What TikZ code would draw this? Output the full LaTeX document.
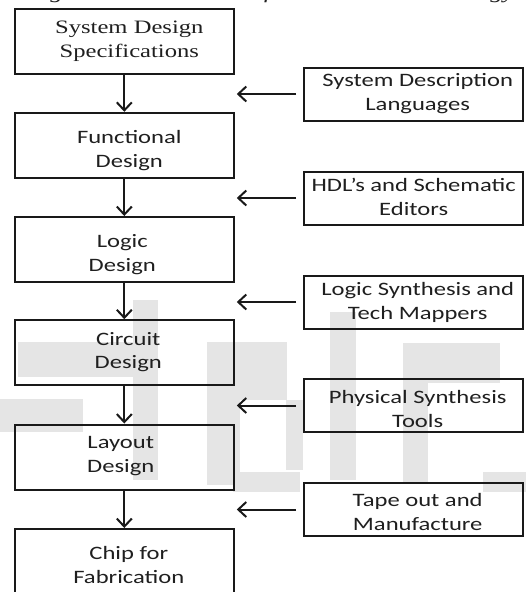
\documentclass[tikz,border=0pt]{standalone}
\usepackage{fontspec}
\usepackage{graphicx}
\setmainfont{Liberation Serif}
\newfontfamily\calfont{Carlito}
\usetikzlibrary{arrows.meta}
\newcommand{\tlines}[2]{\scalebox{1}[0.77]{\begin{tabular}{@{}c@{}}#1\\#2\end{tabular}}}
\begin{document}
\begin{tikzpicture}[x=1pt,y=-1pt,
  lbox/.style={draw=black!90,line width=2pt,minimum width=219pt,minimum height=65pt,inner sep=0pt},
  rbox/.style={draw=black!90,line width=2pt,minimum width=219pt,minimum height=53pt,inner sep=0pt},
  sanstext/.style={inner sep=0pt,text=black!88,font=\calfont\fontsize{24.6}{31}\selectfont},
  seriftext/.style={inner sep=0pt,text=black!88,font=\fontsize{24.6}{31}\selectfont},
  flow/.style={draw=black!90,line width=2pt,-{Straight Barb[length=8pt,width=15pt,line width=2pt]}},
  tool/.style={draw=black!90,line width=2pt,-{Straight Barb[length=8pt,width=15pt,line width=2pt]},shorten <=7pt,shorten >=2pt},
  wm/.style={fill=black!10,draw=none}]
\useasboundingbox (0,0) rectangle (526,592);
% faint watermark
\fill[wm] (18,342) rectangle (133,377);
\fill[wm] (133,300) rectangle (158,480);
\fill[wm] (0,399) rectangle (83,432);
\fill[wm] (207,342) rectangle (287,400);
\fill[wm] (207,400) rectangle (240,485);
\fill[wm] (286,400) rectangle (303,470);
\fill[wm] (330,312) rectangle (356,480);
\fill[wm] (403,343) rectangle (500,383);
\fill[wm] (403,383) rectangle (428,482);
\fill[wm] (233,472) rectangle (300,492);
\fill[wm] (483,472) rectangle (526,492);
% caption (cut at the top, as in the source)
\node[anchor=base east,inner sep=0pt,text=black!88,font=\itshape\fontsize{26}{31}\selectfont] (cap) at (515,-1.5)
  {\scalebox{1}[0.77]{Fig. 4: Co-evolution of tools and methodology}};
% left column
\node[lbox] (b1) at (124.3,41.5) {};
\node[lbox] (b2) at (124.3,145.3) {};
\node[lbox] (b3) at (124.3,249.5) {};
\node[lbox] (b4) at (124.3,352.7) {};
\node[lbox] (b5) at (124.3,457) {};
\node[lbox] (b6) at (124.3,561.5) {};
\node[seriftext,xshift=5pt,yshift=1pt] (t1) at (b1.center) {\tlines{System Design}{Specifications}};
\node[sanstext,xshift=5pt,yshift=-5.5pt] (t2) at (b2.center) {\tlines{Functional}{Design}};
\node[sanstext,xshift=-2pt,yshift=-5.5pt] (t3) at (b3.center) {\tlines{Logic}{Design}};
\node[sanstext,xshift=4pt,yshift=0.5pt] (t4) at (b4.center) {\tlines{Circuit}{Design}};
\node[sanstext,xshift=-3.5pt,yshift=1pt] (t5) at (b5.center) {\tlines{Layout}{Design}};
\node[sanstext,xshift=4.5pt,yshift=-5.5pt] (t6) at (b6.center) {\tlines{Chip for}{Fabrication}};
% right column
\node[rbox] (r1) at (413.7,94) {};
\node[rbox] (r2) at (413.7,198) {};
\node[rbox] (r3) at (413.7,302) {};
\node[rbox] (r4) at (413.7,405.5) {};
\node[rbox] (r5) at (413.7,509.5) {};
\node[sanstext,xshift=4pt,yshift=0pt] (s1) at (r1.center) {\tlines{System Description}{Languages}};
\node[sanstext,xshift=0pt,yshift=-1pt] (s2) at (r2.center) {\tlines{HDL’s and Schematic}{Editors}};
\node[sanstext,xshift=4pt,yshift=-1pt] (s3) at (r3.center) {\tlines{Logic Synthesis and}{Tech Mappers}};
\node[sanstext,xshift=4pt,yshift=-5pt] (s4) at (r4.center) {\tlines{Physical Synthesis}{Tools}};
\node[sanstext,xshift=4pt,yshift=-4pt] (s5) at (r5.center) {\tlines{Tape out and}{Manufacture}};
% flow arrows
\draw[flow] (b1.south) -- (b2.north);
\draw[flow] (b2.south) -- (b3.north);
\draw[flow] (b3.south) -- (b4.north);
\draw[flow] (b4.south) -- (b5.north);
\draw[flow] (b5.south) -- (b6.north);
% tool arrows
\draw[tool] (r1.west) -- (r1.west -| b1.east);
\draw[tool] (r2.west) -- (r2.west -| b2.east);
\draw[tool] (r3.west) -- (r3.west -| b3.east);
\draw[tool] (r4.west) -- (r4.west -| b4.east);
\draw[tool] (r5.west) -- (r5.west -| b5.east);
\end{tikzpicture}
\end{document}
